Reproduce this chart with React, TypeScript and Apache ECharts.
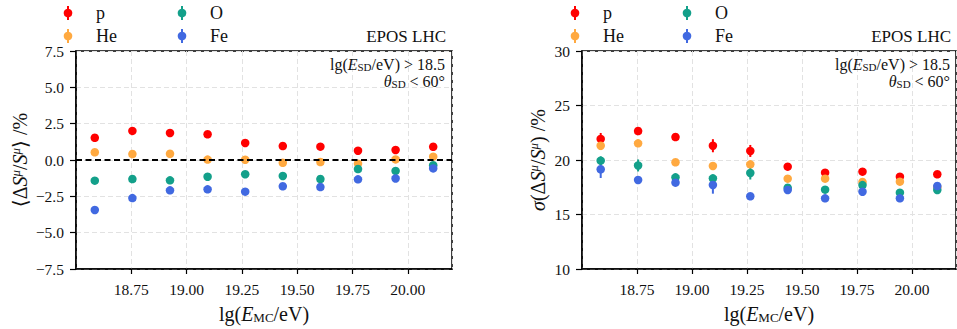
import React, { useEffect, useRef } from 'react';
import * as echarts from 'echarts';

const energies = [18.585, 18.755, 18.925, 19.095, 19.265, 19.435, 19.605, 19.775, 19.945, 20.115];
const speciesNames = ['p', 'He', 'O', 'Fe'];
const speciesColors = ['#ff0000', '#ffa940', '#13a08a', '#4169e1'];

// Left panel: mean relative muon bias <ΔS^μ/S^μ> (%)
const meanP = [1.53, 2.0, 1.86, 1.77, 1.17, 0.96, 0.92, 0.64, 0.69, 0.91];
const meanHe = [0.53, 0.41, 0.43, 0.03, 0.02, -0.19, -0.14, -0.25, 0.04, 0.23];
const meanO = [-1.42, -1.31, -1.4, -1.15, -0.98, -1.1, -1.31, -0.62, -0.75, -0.36];
const meanFe = [-3.44, -2.62, -2.09, -2.02, -2.18, -1.81, -1.86, -1.33, -1.27, -0.58];
const meanErr = [0.15, 0.15, 0.15, 0.15, 0.15, 0.15, 0.15, 0.15, 0.15, 0.15];

// Right panel: resolution σ(ΔS^μ/S^μ) (%)
const sigP = [21.93, 22.66, 22.11, 21.31, 20.83, 19.39, 18.84, 18.93, 18.47, 18.69];
const sigHe = [21.31, 21.53, 19.79, 19.45, 19.6, 18.29, 18.29, 17.98, 18.01, 17.5];
const sigO = [19.94, 19.5, 18.41, 18.32, 18.81, 17.45, 17.28, 17.7, 17.0, 17.25];
const sigFe = [19.15, 18.17, 17.92, 17.71, 16.67, 17.25, 16.48, 17.09, 16.48, 17.61];
const sigErrP = [0.55, 0.35, 0.2, 0.6, 0.55, 0.2, 0.2, 0.2, 0.2, 0.2];
const sigErrHe = [0.4, 0.3, 0.2, 0.3, 0.3, 0.2, 0.2, 0.2, 0.2, 0.2];
const sigErrO = [0.4, 0.55, 0.2, 0.3, 0.6, 0.2, 0.2, 0.2, 0.2, 0.2];
const sigErrFe = [0.8, 0.35, 0.2, 0.8, 0.2, 0.2, 0.2, 0.2, 0.2, 0.2];

const xTickMin = 18.5;
const xTickMax = 20.2;
const xTickStep = 0.25;
const leftYTicks = { min: -7.5, max: 7.5, step: 2.5 };
const rightYTicks = { min: 10, max: 30, step: 5 };

const SERIF = 'Liberation Serif, DejaVu Serif, serif';

export default function App() {
  const ref = useRef<HTMLDivElement>(null);

  useEffect(() => {
    if (!ref.current) return;
    const chart = echarts.init(ref.current, undefined, { renderer: 'svg' });

    const grids = [
      { left: 76, top: 51, width: 376, height: 218 },
      { left: 582, top: 51, width: 374, height: 218 },
    ];

    const meanVals = [meanP, meanHe, meanO, meanFe];
    const sigVals = [sigP, sigHe, sigO, sigFe];
    const sigErrs = [sigErrP, sigErrHe, sigErrO, sigErrFe];

    const errSeries = (idx: number, vals: number[], errs: number[], color: string, name: string) => ({
      type: 'custom',
      name: name + '_err' + idx,
      xAxisIndex: idx,
      yAxisIndex: idx,
      data: energies.map((x, i) => [x, vals[i] - errs[i], vals[i] + errs[i]]),
      encode: { x: 0, y: [1, 2] },
      silent: true,
      z: 3,
      renderItem: (_p: any, api: any) => {
        const lo = api.coord([api.value(0), api.value(1)]);
        const hi = api.coord([api.value(0), api.value(2)]);
        return {
          type: 'line',
          shape: { x1: lo[0], y1: lo[1], x2: hi[0], y2: hi[1] },
          style: { stroke: color, lineWidth: 2 },
        };
      },
    });

    const scatterSeries = (idx: number, vals: number[], color: string, name: string, extra: any = {}) => ({
      type: 'scatter',
      name: name + idx,
      xAxisIndex: idx,
      yAxisIndex: idx,
      data: energies.map((x, i) => [x, vals[i]]),
      symbol: 'circle',
      symbolSize: 8.5,
      itemStyle: { color, opacity: 1 },
      z: 3,
      ...extra,
    });

    const series: any[] = [];
    speciesNames.forEach((n, k) => {
      series.push(errSeries(0, meanVals[k], meanErr, speciesColors[k], n));
      series.push(
        scatterSeries(
          0,
          meanVals[k],
          speciesColors[k],
          n,
          k === 0
            ? {
                markLine: {
                  silent: true,
                  symbol: 'none',
                  z: 4,
                  label: { show: false },
                  lineStyle: { color: '#000', type: [6, 3.5], width: 1.8 },
                  data: [{ yAxis: 0 }],
                },
              }
            : {}
        )
      );
    });
    speciesNames.forEach((n, k) => {
      series.push(errSeries(1, sigVals[k], sigErrs[k], speciesColors[k], n));
      series.push(scatterSeries(1, sigVals[k], speciesColors[k], n));
    });

    const xAxisCommon = (gi: number) => ({
      type: 'value',
      gridIndex: gi,
      min: xTickMin,
      max: xTickMax,
      interval: xTickStep,
      name: 'lg({i|E}{sub|MC}/eV)',
      nameLocation: 'middle',
      nameGap: 34,
      nameTextStyle: {
        color: '#111',
        fontFamily: SERIF,
        fontSize: 20,
        rich: {
          i: { fontFamily: SERIF, fontSize: 20, fontStyle: 'italic', color: '#111' },
          sub: { fontFamily: SERIF, fontSize: 13, color: '#111', verticalAlign: 'bottom', padding: [8, 0, 0, 0] },
        },
      },
      axisLine: { show: true, onZero: false, lineStyle: { color: '#000', width: 1.5 } },
      axisTick: { show: true, length: 5, lineStyle: { color: '#000', width: 1.2 } },
      axisLabel: {
        show: true,
        margin: 12,
        color: '#111',
        fontFamily: SERIF,
        fontSize: 15.5,
        showMinLabel: false,
        showMaxLabel: false,
        formatter: (v: number) => (v < 18.7 || v > 20.1 ? '' : v.toFixed(2)),
      },
      splitLine: { show: true, lineStyle: { color: '#e2e2e2', type: [5, 3], width: 1 } },
    });

    const yAxisCommon = (gi: number, t: { min: number; max: number; step: number }, name: string, nameGap: number, fmt: (v: number) => string) => ({
      type: 'value',
      gridIndex: gi,
      min: t.min,
      max: t.max,
      interval: t.step,
      name,
      nameLocation: 'middle',
      nameRotate: 90,
      nameGap,
      nameTextStyle: {
        color: '#111',
        fontFamily: SERIF,
        fontSize: 20,
        rich: {
          i: { fontFamily: SERIF, fontSize: 20, fontStyle: 'italic', color: '#111' },
          sup: { fontFamily: SERIF, fontSize: 13, fontStyle: 'italic', color: '#111', verticalAlign: 'top', padding: [0, 0, 8, 0] },
        },
      },
      axisLine: { show: true, onZero: false, lineStyle: { color: '#000', width: 1.5 } },
      axisTick: { show: true, length: 6, lineStyle: { color: '#000', width: 1.2 } },
      axisLabel: { show: true, margin: 12, color: '#111', fontFamily: SERIF, fontSize: 15.5, formatter: fmt },
      splitLine: { show: true, lineStyle: { color: '#e2e2e2', type: [5, 3], width: 1 } },
    });

    const legendGraphics = (baseX: number, colX: number, textOff: number): any[] => {
      const pos = [
        [baseX, 13],
        [baseX, 36],
        [baseX + colX, 13],
        [baseX + colX, 36],
      ];
      const out: any[] = [];
      speciesNames.forEach((n, k) => {
        const [cx, cy] = pos[k];
        out.push({
          type: 'line',
          shape: { x1: cx, y1: cy - 7, x2: cx, y2: cy + 7 },
          style: { stroke: speciesColors[k], lineWidth: 2 },
        });
        out.push({ type: 'circle', shape: { cx, cy, r: 4.3 }, style: { fill: speciesColors[k] } });
        out.push({
          type: 'text',
          x: cx + textOff,
          y: cy,
          style: { text: n, fill: '#111', fontFamily: SERIF, fontSize: 18, align: 'left', verticalAlign: 'middle' },
        });
      });
      return out;
    };

    const annotate = (rightX: number): any[] => [
      {
        type: 'text',
        x: rightX,
        y: 36,
        style: { text: 'EPOS LHC', fill: '#111', fontFamily: SERIF, fontSize: 17, align: 'right', verticalAlign: 'middle' },
      },
      {
        type: 'text',
        x: rightX - 1,
        y: 64,
        z: 10,
        style: {
          text: 'lg({i|E}{sub|SD}/eV) > 18.5',
          fill: '#111',
          fontFamily: SERIF,
          fontSize: 16,
          align: 'right',
          verticalAlign: 'middle',
          rich: {
            i: { fontFamily: SERIF, fontSize: 16, fontStyle: 'italic', fill: '#111' },
            sub: { fontFamily: SERIF, fontSize: 11, fill: '#111', verticalAlign: 'bottom', padding: [6, 0, 0, 0] },
          },
        },
      },
      {
        type: 'text',
        x: rightX - 1,
        y: 81,
        z: 10,
        style: {
          text: '{i|θ}{sub|SD} < 60°',
          fill: '#111',
          fontFamily: SERIF,
          fontSize: 16,
          align: 'right',
          verticalAlign: 'middle',
          rich: {
            i: { fontFamily: SERIF, fontSize: 16, fontStyle: 'italic', fill: '#111' },
            sub: { fontFamily: SERIF, fontSize: 11, fill: '#111', verticalAlign: 'bottom', padding: [6, 0, 0, 0] },
          },
        },
      },
    ];

    chart.setOption({
      animation: false,
      backgroundColor: '#fff',
      grid: grids.map((g) => ({ ...g, show: true, borderColor: '#000', borderWidth: 1.5, backgroundColor: 'transparent' })),
      xAxis: [xAxisCommon(0), xAxisCommon(1)],
      yAxis: [
        yAxisCommon(0, leftYTicks, '⟨Δ{i|S}{sup|μ}/{i|S}{sup|μ}⟩ /%', 46, (v) => v.toFixed(1).replace('-', '−')),
        yAxisCommon(1, rightYTicks, '{i|σ}(Δ{i|S}{sup|μ}/{i|S}{sup|μ}) /%', 34, (v) => String(Math.round(v))),
      ],
      series,
      graphic: [
        ...legendGraphics(68, 114, 28),
        ...legendGraphics(575, 112, 28),
        ...annotate(446),
        ...annotate(951),
      ],
    });

    return () => chart.dispose();
  }, []);

  return <div ref={ref} style={{ position: 'absolute', left: 0, top: 0, width: 957, height: 329 }} />;
}
